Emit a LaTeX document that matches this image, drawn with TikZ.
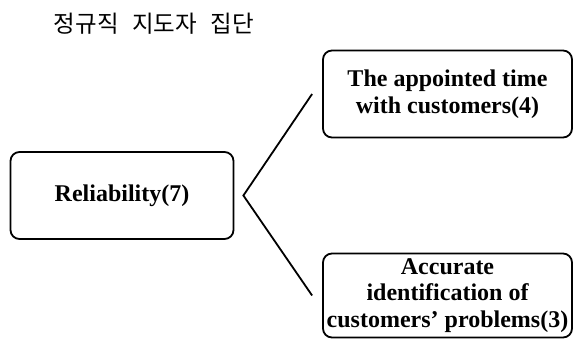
\documentclass[tikz,border=0pt]{standalone}
\usepackage{fontspec}
\setmainfont{Liberation Serif}
\newfontfamily\kofont[WordSpace=2.6]{Noto Sans CJK KR}
\usetikzlibrary{positioning}

\begin{document}
\begin{tikzpicture}[x=1pt, y=-1pt
            , box/.style={draw, line width=1.8pt, rounded corners=9pt, align=center, inner sep=1pt,
                font=\bfseries\fontsize{24}{26.5}\selectfont},
            fork/.style={line width=1.8pt}]
        \useasboundingbox (0,0) rectangle (576,339);
        \node[font=\kofont\fontsize{23.5}{27}\selectfont] (title) at (154,24) {정규직 지도자 집단};
        \node[box, minimum width=223pt, minimum height=87pt] (rel) at (122,195.5) {Reliability(7)};
        \node[box, minimum width=249pt, minimum height=87pt] (time) at (447.5,94)
            {The appointed time\\with customers(4)};
        \node[box, minimum width=249pt, minimum height=84pt] (acc) at (447.5,295.5)
            {Accurate\\identification of\\customers' problems(3)};
        \coordinate[right=9pt of rel] (mid);
        \coordinate[left=10pt of time] (up);
        \coordinate[left=10pt of acc] (down);
        \draw[fork] (up) -- (mid) -- (down);
\end{tikzpicture}
\end{document}
